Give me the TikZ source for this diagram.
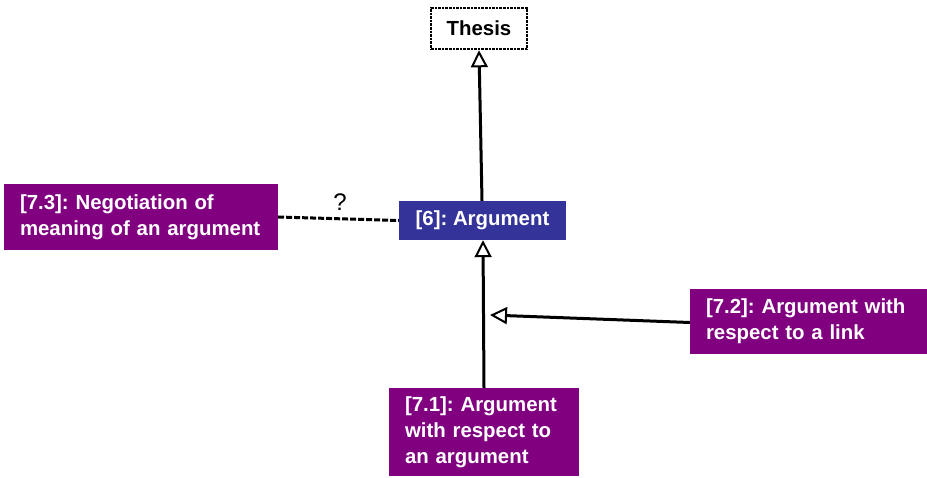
\documentclass[tikz,border=0pt]{standalone}
\usepackage{fontspec}
\setmainfont{Liberation Sans}
\usetikzlibrary{arrows.meta}
\definecolor{argblue}{HTML}{333399}
\definecolor{purp}{HTML}{800080}
\frenchspacing
\begin{document}
\begin{tikzpicture}[x=1pt,y=1pt,
  box/.style={rectangle, inner xsep=16pt, inner ysep=0pt, align=left, font=\fontsize{20.4}{26}\selectfont\bfseries, text=white},
  pbox/.style={box, fill=purp},
  conn/.style={line width=3pt, -{Triangle[open, length=17pt, width=17pt, line width=2pt]}},
  dashconn/.style={line width=3pt, dash pattern=on 6pt off 2pt}
]
\useasboundingbox (0,0) rectangle (927,477);
\node[rectangle, draw, densely dotted, line width=2.6pt, minimum width=96pt, minimum height=41pt, inner sep=0pt, font=\fontsize{20.4}{26}\selectfont\bfseries] (thesis) at (479,448.5) {Thesis};
\node[box, fill=argblue, minimum width=167pt, minimum height=39pt] (arg) at (482.5,256.5) {[6]: Argument};
\node[pbox, minimum width=274pt, minimum height=66pt, text width=242pt] (a73) at (141,260) {\mbox{[7.3]: Negotiation of}\\\mbox{meaning of an argument}};
\node[pbox, minimum width=237pt, minimum height=65pt, text width=205pt] (a72) at (808.5,155.5) {\mbox{[7.2]: Argument with}\\\mbox{respect to a link}};
\node[pbox, minimum width=190pt, minimum height=88pt, text width=158pt] (a71) at (484,45) {\mbox{[7.1]: Argument}\\\mbox{with respect to}\\\mbox{an argument}};
\coordinate (p) at (490,162);
\draw[conn] ([xshift=-0.5pt]arg.north) -- (thesis.south);
\draw[conn] (a71.north) -- ([xshift=0.5pt]arg.south);
\draw[conn] ([yshift=-1pt]a72.west) -- (p);
\draw[dashconn] (a73.east) -- (arg.west);
\node[font=\fontsize{24}{28}\selectfont] (q) at (340,275) {?};
\end{tikzpicture}
\end{document}
